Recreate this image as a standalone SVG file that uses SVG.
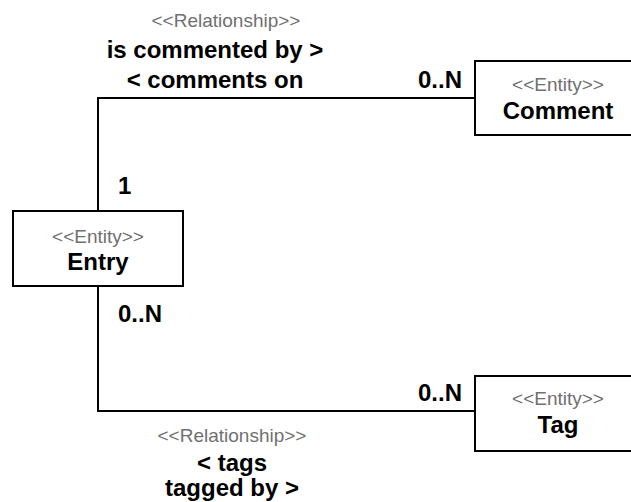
<svg xmlns="http://www.w3.org/2000/svg" width="631" height="502" viewBox="0 0 631 502">
<style>
.box{fill:#fff;stroke:#000;stroke-width:2}
.con{fill:none;stroke:#000;stroke-width:2}
.st{font-family:"Liberation Sans",Arial,sans-serif;font-size:19px;fill:#707070;text-anchor:middle}
.nm{font-family:"Liberation Sans",Arial,sans-serif;font-size:24px;font-weight:bold;fill:#000;text-anchor:middle}
.lb{font-family:"Liberation Sans",Arial,sans-serif;font-size:24px;font-weight:bold;fill:#000}
</style>
<rect width="631" height="502" fill="#fff"/>
<g id="connectors">
<polyline class="con" points="475,98 98,98 98,211"/>
<polyline class="con" points="98,286 98,411 475,411"/>
<text class="st" x="226" y="27">&lt;&lt;Relationship&gt;&gt;</text>
<text class="nm" x="215" y="58">is commented by &gt;</text>
<text class="nm" x="215" y="88">&lt; comments on</text>
<text class="lb" x="418" y="88">0..N</text>
<text class="lb" x="118" y="194">1</text>
<text class="lb" x="118" y="322">0..N</text>
<text class="lb" x="418" y="401">0..N</text>
<text class="st" x="232" y="442">&lt;&lt;Relationship&gt;&gt;</text>
<text class="nm" x="232" y="471">&lt; tags</text>
<text class="nm" x="232" y="496">tagged by &gt;</text>
</g>
<g id="entry">
<rect class="box" x="13" y="211" width="170" height="75"/>
<text class="st" x="98" y="243">&lt;&lt;Entity&gt;&gt;</text>
<text class="nm" x="98" y="270">Entry</text>
</g>
<g id="comment">
<rect class="box" x="475" y="61" width="170" height="74"/>
<text class="st" x="558" y="91">&lt;&lt;Entity&gt;&gt;</text>
<text class="nm" x="558" y="119">Comment</text>
</g>
<g id="tag">
<rect class="box" x="475" y="376" width="170" height="75"/>
<text class="st" x="558" y="405">&lt;&lt;Entity&gt;&gt;</text>
<text class="nm" x="558" y="433">Tag</text>
</g>
</svg>
